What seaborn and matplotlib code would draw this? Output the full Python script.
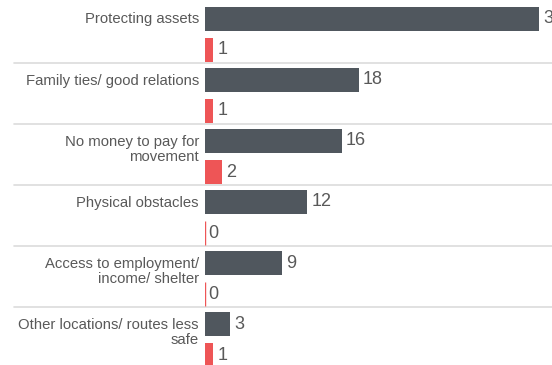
import seaborn as sns
import matplotlib.pyplot as plt
import pandas as pd

# values
reasons = ["Protecting assets",
           "Family ties/ good relations",
           "No money to pay for movement",
           "Physical obstacles",
           "Access to employment/ income/ shelter",
           "Other locations/ routes less safe"]
reason_labels = ["Protecting assets",
                 "Family ties/ good relations",
                 "No money to pay for\nmovement",
                 "Physical obstacles",
                 "Access to employment/\nincome/ shelter",
                 "Other locations/ routes less\nsafe"]
series_a = [39, 18, 16, 12, 9, 3]
series_b = [1, 1, 2, 0, 0, 1]
groups = ["Group A", "Group B"]

dark = "#50575e"
red = "#ee5556"
text_col = "#595959"


def plot_reasons(outname):
    data = pd.DataFrame({
        "reason": reasons * 2,
        "count": series_a + series_b,
        "group": [groups[0]] * len(reasons) + [groups[1]] * len(reasons),
    })

    sns.set_style("white")
    plt.rcParams['font.family'] = ['Liberation Sans', 'DejaVu Sans']

    fig = plt.figure(figsize=(5.52, 3.65), dpi=100)
    ax = fig.add_axes([204.5 / 552, 0, 1 - 204.5 / 552, 1])

    sns.barplot(data=data, y="reason", x="count", hue="group", orient="h",
                palette=[dark, red], saturation=1, width=1.02, gap=0.23,
                legend=False, order=reasons, hue_order=groups, ax=ax)

    for cont in ax.containers:
        for bar in cont:
            bar.set_edgecolor(bar.get_facecolor())
            # zero values still show as a thin line
            bar.set_linewidth(1.0 if bar.get_width() == 0 else 0)
        ax.bar_label(cont, padding=3, fontsize=13, color=text_col)

    ax.set_xlim(0, 40.55)
    ax.set_ylim(5.413, -0.561)

    # category labels, first line centred on the first bar
    for bar, lab in zip(ax.containers[0], reason_labels):
        yc = bar.get_y() + bar.get_height() / 2
        ax.annotate(lab, xy=(0, yc), xycoords="data", xytext=(-4, 4.5),
                    textcoords="offset points", ha="right", va="top",
                    fontsize=10.7, color=text_col, linespacing=1.1,
                    annotation_clip=False)

    # separators between categories
    for i in range(len(reasons) - 1):
        ax.axhline(i + 0.466, xmin=-(204.5 - 14) / 347.5, xmax=1,
                   color="#dcdcdc", linewidth=1.2, clip_on=False, zorder=0)

    ax.set_xlabel("")
    ax.set_ylabel("")
    ax.set_xticks([])
    ax.set_yticks([])
    sns.despine(ax=ax, left=True, bottom=True)

    plt.savefig(outname, dpi=100)


if __name__ == '__main__':
    plot_reasons("out.png")
